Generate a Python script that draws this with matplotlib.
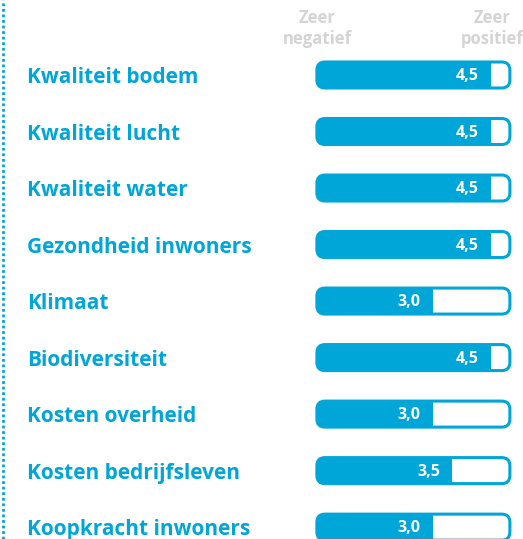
import matplotlib.pyplot as plt
from matplotlib.patches import FancyBboxPatch, Rectangle

labels = [
    "Kwaliteit bodem",
    "Kwaliteit lucht",
    "Kwaliteit water",
    "Gezondheid inwoners",
    "Klimaat",
    "Biodiversiteit",
    "Kosten overheid",
    "Kosten bedrijfsleven",
    "Koopkracht inwoners",
]
values = [4.5, 4.5, 4.5, 4.5, 3.0, 4.5, 3.0, 3.5, 3.0]
scale_max = 5.0
header_left = "Zeer\nnegatief"
header_right = "Zeer\npositief"

blue = "#00a6d8"
grey = "#d4d4d4"

plt.rcParams["font.family"] = ["Open Sans", "DejaVu Sans"]

fig = plt.figure(figsize=(5.23, 5.39), dpi=100)
ax = fig.add_axes([0, 0, 1, 1])
ax.set_xlim(-8.21, 5.34)
ax.set_ylim(8.21, -1.327)
ax.axis("off")

bar_h = 0.46
# x unit is ~38.6 px, y unit ~56.5 px
aspect = 38.6 / 56.5

for i, (label, val) in enumerate(zip(labels, values)):
    track = FancyBboxPatch((0, i - bar_h / 2), scale_max, bar_h,
                           boxstyle="round,pad=0,rounding_size=0.21",
                           mutation_aspect=aspect,
                           facecolor="white", edgecolor=blue, linewidth=2.2, zorder=2)
    ax.add_patch(track)
    fill = Rectangle((0, i - bar_h / 2), val, bar_h, facecolor=blue,
                     edgecolor="none", zorder=3)
    ax.add_patch(fill)
    fill.set_clip_path(track)
    ax.text(val - 0.31, i + 0.02, f"{val:.1f}".replace(".", ","), color="white",
            fontsize=11.5, fontweight="bold", ha="right", va="center", zorder=4)
    ax.text(-7.51, i + 0.05, label, color=blue, fontsize=15, fontweight="bold",
            ha="left", va="center")

ax.text(0, -0.82, header_left, color=grey, fontsize=12, fontweight="bold",
        ha="center", va="center", linespacing=1.25)
ax.text(4.55, -0.82, header_right, color=grey, fontsize=12, fontweight="bold",
        ha="center", va="center", linespacing=1.25)

# dotted rule on the left edge
fig.add_artist(plt.Line2D([3 / 523, 3 / 523], [0, 1], color=blue, linewidth=2,
                          linestyle=(0, (1, 1)), transform=fig.transFigure))

fig.savefig("out.png", dpi=100)
